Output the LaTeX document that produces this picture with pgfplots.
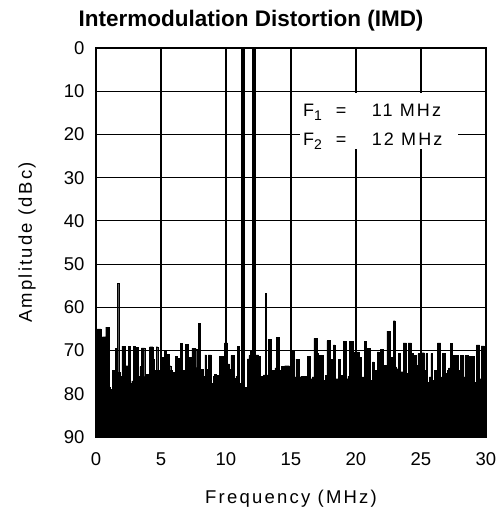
\documentclass[border=0pt]{standalone}
\usepackage{fontspec}
\setmainfont{Liberation Sans}
\newfontfamily\lab[LetterSpace=12]{Liberation Sans}
\usepackage{pgfplots}
\pgfplotsset{compat=1.18}

\begin{document}
\begin{tikzpicture}
  \begin{axis}
    [ scale only axis
    , width=390pt
    , height=389pt
    , xmin=0, xmax=30
    , ymin=0, ymax=90
    , y dir=reverse
    , xtick={0,5,...,30}
    , ytick={0,10,...,90}
    , major tick length=0pt
    , grid=major
    , major grid style={black, line width=1.1pt}
    , axis line style={black, line width=1.6pt}
    , /pgf/number format/assume math mode=true
    , tick label style={font=\fontsize{18.5}{20}\selectfont}
    , yticklabel style={xshift=-8pt}
    , xticklabel style={yshift=-12pt}
    , xlabel={Frequency (MHz)}
    , ylabel={Amplitude (dBc)}
    , label style={font=\lab\fontsize{18.5}{20}\selectfont}
    , xlabel style={at={(axis description cs:0.5,0)}, anchor=base, yshift=-66pt}
    , ylabel style={at={(axis description cs:0,0.5)}, anchor=base, rotate=0, yshift=64pt}
    , clip=true
    ]
    % noise floor of the spectrum
    \addplot[const plot, fill=black, draw=black, line width=0.3pt] coordinates {
      (0,90)
      (0,65) (0.125,65) (0.25,65) (0.375,72) (0.5,66.8) (0.625,66.8) (0.75,64.6) (0.875,64.6)
      (1,78.5) (1.125,79) (1.25,74.5) (1.375,74.5) (1.5,69.5) (1.625,54.5) (1.75,75) (1.875,76)
      (2,69) (2.125,69) (2.25,73.5) (2.375,73.5) (2.5,69) (2.625,77.6) (2.75,77) (2.875,69)
      (3,69.2) (3.125,69.2) (3.25,76) (3.375,73.7) (3.5,69.4) (3.625,69.4) (3.75,76) (3.875,75.5)
      (4,75.5) (4.125,69.1) (4.25,69.1) (4.375,72) (4.5,74.5) (4.625,69.1) (4.75,74.5) (4.875,76)
      (5,71.5) (5.125,71.5) (5.25,70) (5.375,75.5) (5.5,70.8) (5.625,73.5) (5.75,74.5) (5.875,75)
      (6,77.5) (6.125,71.3) (6.25,71.8) (6.375,72) (6.5,68.4) (6.625,74.5) (6.75,74.5) (6.875,68.6)
      (7,68.6) (7.125,71.5) (7.25,71.5) (7.375,69.5) (7.5,69.5) (7.625,69.6) (7.75,73.9) (7.875,63.7)
      (8,74.4) (8.125,74.4) (8.25,76) (8.375,71) (8.5,74.3) (8.625,71) (8.75,71) (8.875,77.6)
      (9,76) (9.125,75.5) (9.25,75.8) (9.375,75.8) (9.5,71.3) (9.625,71.3) (9.75,76.8) (9.875,68.2)
      (10,68.2) (10.125,73.1) (10.25,74.4) (10.375,71.1) (10.5,71.1) (10.625,76.4) (10.75,75.9) (10.875,69)
      (11,77.6) (11.125,78.5) (11.25,78.5) (11.375,78.5) (11.5,78.5) (11.625,71.9) (11.75,71.1) (11.875,70)
      (12,74) (12.125,74) (12.25,71) (12.375,71) (12.5,71.3) (12.625,75.9) (12.75,75.9) (12.875,75.6)
      (13,56.8) (13.125,75.6) (13.25,67.4) (13.375,67.4) (13.5,74.5) (13.625,74.5) (13.75,74) (13.875,66.9)
      (14,66.9) (14.125,74.5) (14.25,73.7) (14.375,73.7) (14.5,73.5) (14.625,73.5) (14.75,73.5) (14.875,73.7)
      (15,69.9) (15.125,69.9) (15.25,76.1) (15.375,72) (15.5,72) (15.625,76.1) (15.75,75.9) (15.875,75.9)
      (16,75.9) (16.125,75.9) (16.25,71.3) (16.375,71.3) (16.5,76.5) (16.625,76.1) (16.75,67.2) (16.875,67.2)
      (17,70.7) (17.125,71.1) (17.25,71.1) (17.375,71.1) (17.5,76.9) (17.625,75.7) (17.75,67.7) (17.875,67.7)
      (18,74.5) (18.125,72.1) (18.25,68.7) (18.375,76.5) (18.5,76.5) (18.625,72) (18.75,75.7) (18.875,75.7)
      (19,67.9) (19.125,67.9) (19.25,76.5) (19.375,75.9) (19.5,67.9) (19.625,67.9) (19.75,76.5) (19.875,70.3)
      (20,70.3) (20.125,70.3) (20.25,71.5) (20.375,76.1) (20.5,76.1) (20.625,67.9) (20.75,76.1) (20.875,69.5)
      (21,69.5) (21.125,76.9) (21.25,72.6) (21.375,74.5) (21.5,74.5) (21.625,70.3) (21.75,76.1) (21.875,69.7)
      (22,69.7) (22.125,73.4) (22.25,73.4) (22.375,65.5) (22.5,65.5) (22.625,71.5) (22.75,71.5) (22.875,63.1)
      (23,73.8) (23.125,74.2) (23.25,70.7) (23.375,74.9) (23.5,74.9) (23.625,68.2) (23.75,68.2) (23.875,75.3)
      (24,68.2) (24.125,68.2) (24.25,70.7) (24.375,71.1) (24.5,71.1) (24.625,73.4) (24.75,70.7) (24.875,77.6)
      (25,70.5) (25.125,70.5) (25.25,74.5) (25.375,70.7) (25.5,77.3) (25.625,76.1) (25.75,70.7) (25.875,76.9)
      (26,74.5) (26.125,74.5) (26.25,68.2) (26.375,68.2) (26.5,76.1) (26.625,70.7) (26.75,70.7) (26.875,75.3)
      (27,74.5) (27.125,74) (27.25,68.4) (27.375,75.3) (27.5,71.1) (27.625,71.1) (27.75,71.1) (27.875,74.5)
      (28,71.1) (28.125,71.1) (28.25,76.1) (28.375,71.1) (28.5,71.1) (28.625,71.3) (28.75,75.3) (28.875,71.3)
      (29,71.3) (29.125,77.3) (29.25,68.7) (29.375,68.7) (29.5,76.5) (29.625,68.9) (29.75,68.9) (29.875,71.5)
      (30,71.5)
      (30,90)
    };
    % the two input tones
    \addplot[black, line width=3.2pt] coordinates {(11.3,90) (11.3,0)};
    \addplot[black, line width=3.6pt] coordinates {(12.15,90) (12.15,0)};
    % label box
    \fill[white] (axis cs:15.69,10.41) rectangle (axis cs:27.85,23.37);
    \node[anchor=base west, inner sep=0pt, font=\lab\fontsize{18}{20}\selectfont]
      at (axis cs:15.92,15.96) {F\raisebox{-4pt}{\fontsize{14}{14}\selectfont 1}};
    \node[anchor=base west, inner sep=0pt, font=\lab\fontsize{18}{20}\selectfont]
      at (axis cs:15.92,22.67) {F\raisebox{-4pt}{\fontsize{14}{14}\selectfont 2}};
    \node[anchor=base, inner sep=0pt, font=\lab\fontsize{18}{20}\selectfont]
      at (axis cs:18.85,15.96) {=};
    \node[anchor=base, inner sep=0pt, font=\lab\fontsize{18}{20}\selectfont]
      at (axis cs:18.85,22.67) {=};
    \node[anchor=base west, inner sep=0pt, font=\lab\fontsize{18}{20}\selectfont]
      at (axis cs:21.2,15.96) {11 MHz};
    \node[anchor=base west, inner sep=0pt, font=\lab\fontsize{18}{20}\selectfont]
      at (axis cs:21.2,22.67) {12 MHz};
  \end{axis}
  \node[anchor=base, font=\bfseries\fontsize{22.5}{26}\selectfont]
    at ([shift={(155pt,21pt)}]current axis.north west) {Intermodulation Distortion (IMD)};
  \path ([shift={(-96pt,-87pt)}]current axis.south west) rectangle ([shift={(12pt,48pt)}]current axis.north east);
\end{tikzpicture}
\end{document}
